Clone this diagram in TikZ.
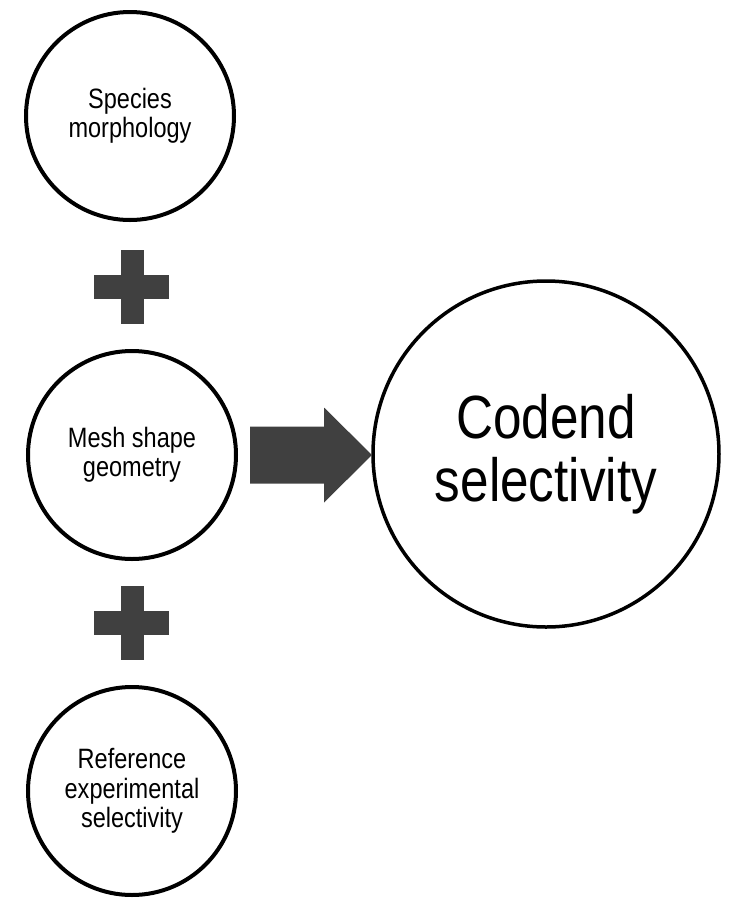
\documentclass[tikz,border=0pt]{standalone}
\usepackage{fontspec}
\setmainfont{Liberation Sans}[FakeStretch=0.84]
\def \speciesMorphologyStr {Species\\morphology}
\def \meshShapeGeometryStr {Mesh shape\\geometry}
\def \referenceSelectivityStr {Reference\\experimental\\selectivity}
\def \codendSelectivityStr {Codend\\selectivity}
\def \smallCircleDiameter {208}
\def \bigCircleDiameter {346}

\begin{document}
\begin{tikzpicture}[x=1pt,y=-1pt]


\definecolor{plusgray}{RGB}{64,64,64}

\useasboundingbox (0,0) rectangle (730,898);

\begin{scope}[
  smallcircle/.style={circle, draw=black, line width=4pt, inner sep=0pt,
    minimum size={\smallCircleDiameter pt}, align=center,
    font=\fontsize{28}{29.5}\selectfont},
  bigcircle/.style={circle, draw=black, line width=3.5pt, inner sep=0pt,
    minimum size={\bigCircleDiameter pt}, align=center,
    font=\fontsize{61}{63}\selectfont}]


\node[smallcircle] (species) at (130,116) {\speciesMorphologyStr};
\node[smallcircle] (mesh) at (132,455) {\meshShapeGeometryStr};
\node[smallcircle] (reference) at (132,791) {\referenceSelectivityStr};

\node[bigcircle] (codend) at (546,454) {\codendSelectivityStr};


\foreach \plusY in {287,623} {
  \fill[plusgray] (120.5,\plusY-37) rectangle (143.5,\plusY+37);
  \fill[plusgray] (94,\plusY-12) rectangle (169,\plusY+12);
}


\fill[plusgray, shift={(mesh.east)}] (12,-28.5) -- (86,-28.5) -- (86,-47.5)
  -- (134,0) -- (86,47.5) -- (86,28.5) -- (12,28.5) -- cycle;


\end{scope}
\end{tikzpicture}
\end{document}
